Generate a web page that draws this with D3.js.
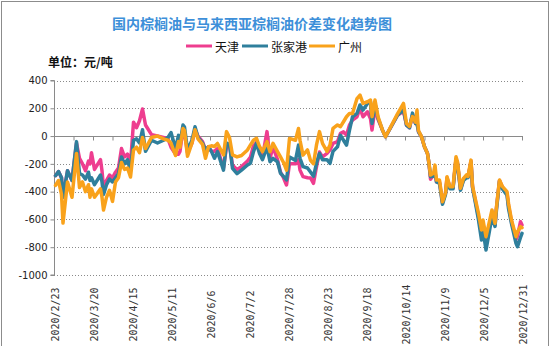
<!DOCTYPE html>
<html>
<head>
<meta charset="utf-8">
<script src="https://cdn.jsdelivr.net/npm/d3@7"></script>
<style>
  html, body { margin: 0; padding: 0; background: #fff; }
  svg { display: block; }
</style>
</head>
<body>
<script>
// ---------------- DATA ----------------
const title = "国内棕榈油与马来西亚棕榈油价差变化趋势图";
const unitLabel = "单位：元/吨";
const seriesNames = ["天津", "张家港", "广州"];
const yTicks = [400, 200, 0, -200, -400, -600, -800, -1000];
const xLabelDates = ["2020-02-23","2020-03-20","2020-04-15","2020-05-11","2020-06-06","2020-07-02","2020-07-28","2020-08-23","2020-09-18","2020-10-14","2020-11-09","2020-12-05","2020-12-31"];

const dates = [
"2020-02-24","2020-02-26","2020-02-28","2020-02-29","2020-03-03","2020-03-06","2020-03-09","2020-03-11","2020-03-13","2020-03-15",
"2020-03-17","2020-03-18","2020-03-19","2020-03-21","2020-03-25","2020-03-26","2020-03-27","2020-03-29","2020-03-31","2020-04-02",
"2020-04-04","2020-04-06","2020-04-08","2020-04-10","2020-04-12","2020-04-14","2020-04-16","2020-04-18","2020-04-20","2020-04-22",
"2020-04-24","2020-04-28","2020-05-02","2020-05-06","2020-05-09","2020-05-11","2020-05-14","2020-05-16","2020-05-17","2020-05-19",
"2020-05-20","2020-05-22","2020-05-25","2020-05-27","2020-05-29","2020-06-01","2020-06-03","2020-06-05","2020-06-07","2020-06-09",
"2020-06-11","2020-06-15","2020-06-17","2020-06-19","2020-06-21","2020-06-24","2020-06-27","2020-07-01","2020-07-03","2020-07-05",
"2020-07-07","2020-07-09","2020-07-11","2020-07-14","2020-07-16","2020-07-18","2020-07-21","2020-07-23","2020-07-25","2020-07-27",
"2020-07-29","2020-08-02","2020-08-04","2020-08-05","2020-08-07","2020-08-10","2020-08-12","2020-08-14","2020-08-16","2020-08-18",
"2020-08-20","2020-08-23","2020-08-25","2020-08-27","2020-08-30","2020-09-01","2020-09-03","2020-09-05","2020-09-07","2020-09-09",
"2020-09-12","2020-09-14","2020-09-16","2020-09-19","2020-09-21","2020-09-22","2020-09-24","2020-09-26","2020-09-29","2020-10-01",
"2020-10-09","2020-10-13","2020-10-15","2020-10-17","2020-10-19","2020-10-21","2020-10-22","2020-10-23","2020-10-25","2020-10-27",
"2020-10-29","2020-10-30","2020-10-31","2020-11-02","2020-11-03","2020-11-04","2020-11-06","2020-11-08","2020-11-10","2020-11-11",
"2020-11-13","2020-11-15","2020-11-17","2020-11-18","2020-11-20","2020-11-22","2020-11-24","2020-11-25","2020-11-27","2020-11-28",
"2020-11-30","2020-12-02","2020-12-04","2020-12-05","2020-12-07","2020-12-09","2020-12-11","2020-12-13","2020-12-14","2020-12-16",
"2020-12-18","2020-12-21","2020-12-22","2020-12-24","2020-12-27","2020-12-28","2020-12-30","2020-12-31"
];

const tianjin = [
-285,-255,-300,-440,-250,-320,-50,-160,-200,-250,
-180,-200,-120,-240,-170,-250,-370,-320,-280,-300,
-260,-230,-90,-150,-130,-200,100,60,110,195,
80,10,0,-10,-20,-80,-130,-130,-110,50,
20,-120,-50,50,0,-40,-100,-77,-110,-110,
-90,-230,-75,-60,-210,-240,-220,-180,-150,-70,
-45,-100,-150,32,-160,-78,-170,-260,-300,-352,
-200,-200,-170,-245,-292,-300,-301,-340,-220,-115,
-150,-125,-100,-53,-40,20,30,7,80,115,
139,200,139,175,125,43,200,120,43,-5,
150,180,79,60,150,91,100,31,-5,-77,
-125,-200,-310,-280,-260,-330,-330,-480,-410,-300,
-370,-375,-165,-195,-385,-310,-290,-295,-180,-365,
-470,-580,-710,-640,-760,-660,-550,-640,-515,-320,
-370,-410,-500,-615,-745,-720,-616,-640
];

const zhangjiagang = [
-285,-255,-300,-440,-250,-320,-40,-270,-280,-310,
-260,-320,-300,-350,-280,-330,-420,-350,-310,-330,
-300,-270,-150,-200,-170,-250,-30,-20,-50,45,
-110,-30,-50,-30,-10,25,-90,5,-50,80,
65,-100,-30,67,-10,-50,-100,-77,-112,-160,
-112,-245,-50,-60,-232,-270,-245,-208,-195,-112,
-52,-125,-170,-78,-185,-160,-185,-268,-290,-316,
-150,-175,-65,-160,-220,-230,-259,-290,-196,-125,
-170,-170,-196,-110,-77,5,-30,-65,43,139,
163,224,187,235,247,91,235,130,43,-5,
150,190,79,60,165,91,90,31,-5,-77,
-125,-200,-292,-290,-260,-330,-340,-490,-420,-320,
-380,-380,-170,-200,-390,-320,-300,-300,-190,-370,
-484,-604,-748,-676,-820,-700,-580,-650,-530,-325,
-380,-425,-520,-630,-772,-796,-730,-700
];

const guangzhou = [
-355,-320,-420,-626,-330,-440,-125,-370,-330,-400,
-350,-440,-380,-440,-380,-440,-532,-440,-390,-470,
-330,-300,-190,-240,-230,-295,-100,-80,-120,-10,
-90,-10,0,-20,-30,-50,-140,-40,-80,55,
40,-145,-50,45,-20,-60,-160,-77,-70,-75,
-53,-136,32,-10,-136,-150,-140,-100,-64,-30,
-16,-75,-112,-40,-112,-52,-112,-150,-190,-245,
-17,-30,55,-30,-137,-100,-175,-199,-64,32,
-53,-110,-64,55,80,68,103,139,163,163,
270,295,235,247,259,140,259,140,43,-5,
160,235,90,70,140,100,187,40,-5,-77,
-125,-197,-280,-268,-209,-316,-316,-473,-410,-292,
-364,-364,-149,-185,-376,-304,-280,-290,-173,-358,
-460,-556,-676,-604,-724,-628,-532,-628,-508,-316,
-364,-400,-484,-604,-724,-690,-652,-660
];

const seriesColors = ["#ee3d8f", "#2f7f9c", "#f9a21b"];

// ---------------- CHART ----------------
const W = 550, H = 346;
const parse = d3.timeParse("%Y-%m-%d");
const fmtLabel = d3.timeFormat("%Y/%-m/%-d");

const svg = d3.select("body").append("svg").attr("width", W).attr("height", H);

// outer frame
svg.append("rect").attr("x", 1.5).attr("y", 1.5).attr("width", W - 3).attr("height", H + 10)
  .attr("fill", "none").attr("stroke", "#8c8c8c").attr("stroke-width", 1);

const x = d3.scaleTime()
  .domain([parse("2020-02-23"), parse("2020-12-31")])
  .range([54, 522]);
const y = d3.scaleLinear().domain([-1000, 400]).range([275, 80.5]);

// gridlines (dotted)
svg.append("g").selectAll("line")
  .data(yTicks.filter(v => v !== 0))
  .join("line")
  .attr("x1", 54).attr("x2", 523)
  .attr("y1", d => Math.round(y(d)) + 0.5).attr("y2", d => Math.round(y(d)) + 0.5)
  .attr("stroke", "#8a8a8a").attr("stroke-width", 1).attr("stroke-dasharray", "1,2");

// y axis
const yAxis = d3.axisLeft(y).tickValues(yTicks).tickSize(4).tickPadding(3).tickFormat(d => String(d));
const gy = svg.append("g").attr("transform", "translate(54.5,0)").call(yAxis);
gy.select(".domain").attr("stroke", "#8a8a8a").attr("d", `M-4,${y(400)}H0V${y(-1000)}H-4`);
gy.selectAll(".tick line").attr("stroke", "#8a8a8a");
gy.selectAll(".tick text").attr("font-family", "'DejaVu Sans', Verdana, sans-serif")
  .attr("font-size", 10).attr("fill", "#222");

// x axis on zero line with tick marks every 13 days
const tickDates = d3.range(0, 25).map(i => d3.timeDay.offset(parse("2020-02-23"), i * 13));
const xAxis = d3.axisBottom(x).tickValues(tickDates).tickSize(4).tickFormat("");
const gx = svg.append("g").attr("transform", `translate(0,${Math.round(y(0)) + 0.5})`).call(xAxis);
gx.select(".domain").attr("stroke", "#8a8a8a").attr("d", `M54,0H523`);
gx.selectAll(".tick line").attr("stroke", "#8a8a8a");

// x labels at bottom, rotated
svg.append("g").selectAll("text")
  .data(xLabelDates.map(parse))
  .join("text")
  .attr("transform", d => `translate(${x(d) + 1},314.5) rotate(-90)`)
  .attr("text-anchor", "middle")
  .attr("dominant-baseline", "central")
  .attr("font-family", "'DejaVu Sans Mono', monospace")
  .attr("font-size", 10)
  .attr("fill", "#333")
  .text(d => fmtLabel(d));

// lines
const allSeries = [tianjin, zhangjiagang, guangzhou];
const line = d3.line()
  .x((d, i) => x(parse(dates[i])))
  .y(d => y(d));
svg.append("g").selectAll("path")
  .data(allSeries)
  .join("path")
  .attr("d", d => line(d))
  .attr("fill", "none")
  .attr("stroke", (d, i) => seriesColors[i])
  .attr("stroke-width", 3.5)
  .attr("stroke-linejoin", "round")
  .attr("stroke-linecap", "round");

// title
svg.append("text")
  .attr("x", 252).attr("y", 23)
  .attr("text-anchor", "middle").attr("dominant-baseline", "central")
  .attr("font-family", "'Noto Sans CJK SC', sans-serif")
  .attr("font-size", 14).attr("font-weight", "bold")
  .attr("fill", "#3d8fd9")
  .text(title);

// legend
const legendX = [186, 242, 309];
const lg = svg.append("g");
seriesNames.forEach((name, i) => {
  lg.append("line")
    .attr("x1", legendX[i]).attr("x2", legendX[i] + 26)
    .attr("y1", 46).attr("y2", 46)
    .attr("stroke", seriesColors[i]).attr("stroke-width", 3);
  lg.append("text")
    .attr("x", legendX[i] + 29).attr("y", 46)
    .attr("dominant-baseline", "central")
    .attr("font-family", "'Noto Sans CJK SC', sans-serif")
    .attr("font-size", 12).attr("fill", "#111")
    .text(name);
});

// unit label
svg.append("text")
  .attr("x", 48).attr("y", 61)
  .attr("dominant-baseline", "central")
  .attr("font-family", "'Noto Sans CJK SC', sans-serif")
  .attr("font-size", 12).attr("font-weight", "bold").attr("fill", "#111")
  .text(unitLabel);
</script>
</body>
</html>
